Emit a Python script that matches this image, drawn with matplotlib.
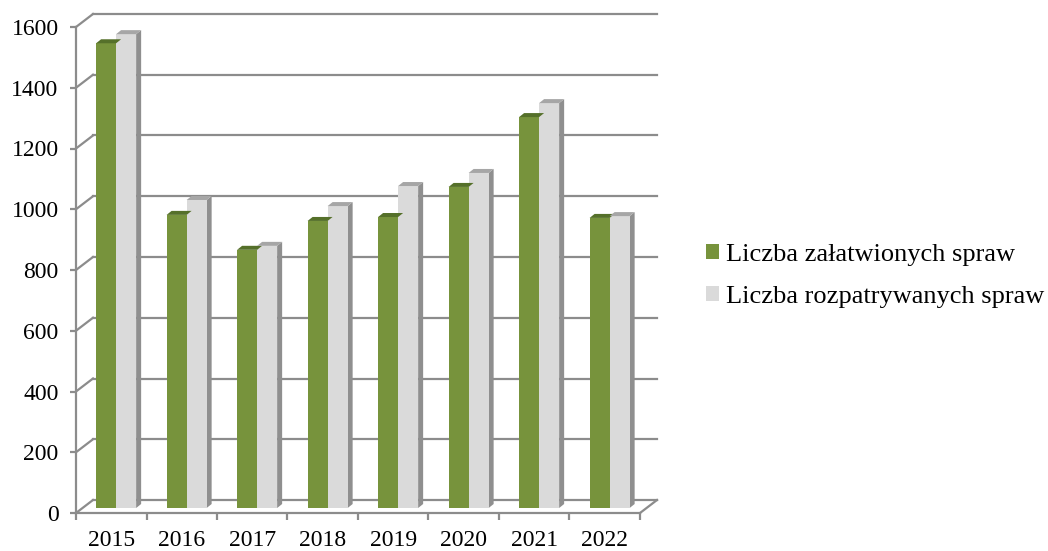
import numpy as np
import matplotlib.pyplot as plt
from matplotlib.patches import Polygon

years = ['2015', '2016', '2017', '2018', '2019', '2020', '2021', '2022']
zalatwione = [1530, 965, 850, 945, 958, 1057, 1287, 955]
rozpatrywane = [1560, 1014, 863, 994, 1060, 1103, 1333, 961]
labels = ['Liczba załatwionych spraw', 'Liczba rozpatrywanych spraw']

plt.rcParams['font.family'] = ['Liberation Serif', 'DejaVu Serif']

W, H = 1048, 551
fig = plt.figure(figsize=(W / 100, H / 100), dpi=100)
# front plane of the 3D box: x 0..8 -> px 76..640, y 0..1600 -> px 513..27
ax = fig.add_axes([76 / W, 38 / H, 564 / W, 486 / H])
ax.set_xlim(0, 8)
ax.set_ylim(0, 1600)

px_x = 8 / 564      # data units per pixel
px_y = 1600 / 486

line_c = '#8c8c8c'
lw = 1.6

# depth of the walls
wdx, wdy = 17 * px_x, 13 * px_y
yt = np.arange(0, 1601, 200)
for v in yt:
    ax.plot([wdx, 8 + wdx], [v + wdy, v + wdy], color=line_c, lw=lw, zorder=1, clip_on=False)
    ax.plot([0, wdx], [v, v + wdy], color=line_c, lw=lw, zorder=1, clip_on=False)
ax.plot([8, 8 + wdx], [0, wdy], color=line_c, lw=lw, zorder=1, clip_on=False)

# bars
x = np.arange(len(years))
bw = 0.284
base = 5 * px_y
ddx, ddy = 5 * px_x, 4 * px_y
series = [
    (zalatwione, x + 0.285, '#77933c', '#55702a', '#4f6228'),
    (rozpatrywane, x + 0.285 + bw, '#dadada', '#a6a6a6', '#8f8f8f'),
]
handles = []
for vals, xl, c_front, c_top, c_side in series:
    bars = ax.bar(xl, vals, width=bw, bottom=base, align='edge', color=c_front,
                  edgecolor='none', zorder=3, clip_on=False)
    handles.append(bars)
    for xi, v in zip(xl, vals):
        xr = xi + bw
        top = base + v
        ax.add_patch(Polygon([(xr, base), (xr, top), (xr + ddx, top + ddy), (xr + ddx, base + ddy)],
                             closed=True, facecolor=c_side, edgecolor='none', zorder=2.5, clip_on=False))
        ax.add_patch(Polygon([(xi, top), (xr, top), (xr + ddx, top + ddy), (xi + ddx, top + ddy)],
                             closed=True, facecolor=c_top, edgecolor='none', zorder=3.5, clip_on=False))

# axes
for s in ['top', 'right']:
    ax.spines[s].set_visible(False)
for s in ['left', 'bottom']:
    ax.spines[s].set_color(line_c)
    ax.spines[s].set_linewidth(lw)
    ax.spines[s].set_zorder(4)
ax.set_yticks(yt)
ax.set_yticklabels([str(v) for v in yt])
ax.set_xticks(np.arange(0, 9))
ax.set_xticklabels([])
ax.set_xticks(x + 0.5, minor=True)
ax.set_xticklabels(years, minor=True)
ax.tick_params(axis='y', length=4.5, width=lw, color=line_c, pad=8, labelsize=17)
ax.tick_params(axis='x', which='major', length=5, width=lw, color=line_c)
ax.tick_params(axis='x', which='minor', length=0, pad=12, labelsize=17)
ax.patch.set_visible(False)

leg = fig.legend(handles, labels, loc='center left', bbox_to_anchor=(706 / W, 1 - 276 / H),
                 frameon=False, fontsize=19, handlelength=0.48, handleheight=0.48,
                 handletextpad=0.28, labelspacing=0.75, borderpad=0, borderaxespad=0)

fig.savefig('out.png', dpi=100)
